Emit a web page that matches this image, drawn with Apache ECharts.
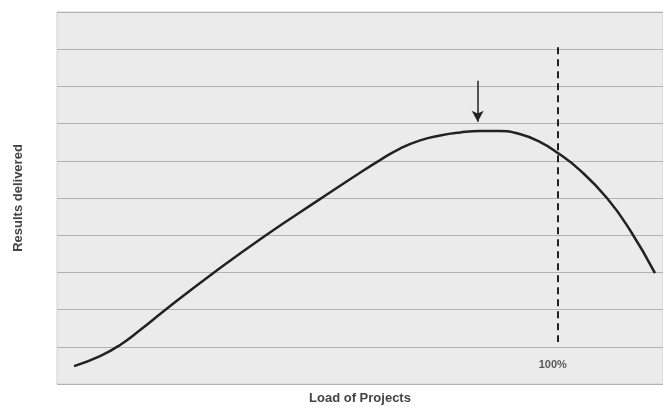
<!DOCTYPE html>
<html>
<head>
<meta charset="utf-8">
<script src="https://cdn.jsdelivr.net/npm/echarts@6/dist/echarts.min.js"></script>
<style>html,body{margin:0;padding:0;background:#fff}#c{width:663px;height:407px}</style>
</head>
<body>
<div id="c"></div>
<script>
// Load of projects (% of capacity) and results delivered (arbitrary units)
var loadValues = [3.4, 8.6, 12.6, 16.6, 21.6, 31.5, 41.5, 52.5, 60.5, 64.5, 68.5, 72.5, 76.5, 80.5, 84.4, 88.4, 92.4, 96.4, 100, 104.4, 109.8, 114.4, 119.4];
var resultValues = [0.48, 0.75, 1.05, 1.45, 1.99, 3.01, 3.98, 4.97, 5.68, 6.02, 6.33, 6.55, 6.68, 6.76, 6.80, 6.80, 6.72, 6.51, 6.21, 5.75, 5.0, 4.14, 2.98];
var capacityX = 100;
var capacityLine = [9.05, 1.13];
var capacityLabel = "100%";
var peakArrowX = 84;
var peakArrow = [8.15, 7.05];
var xTitle = "Load of Projects";
var yTitle = "Results delivered";

var curve = loadValues.map(function (x, i) { return [x, resultValues[i]]; });

var chart = echarts.init(document.getElementById('c'));
chart.setOption({
  animation: false,
  grid: { left: 57, top: 12, right: 0, bottom: 23, outerBoundsMode: 'none', containLabel: false, show: true, backgroundColor: '#ebebeb', borderColor: '#d0d0d0', borderWidth: 1 },
  xAxis: {
    type: 'value', min: 0, max: 121,
    name: xTitle, nameLocation: 'middle', nameGap: 8,
    nameTextStyle: { fontFamily: 'Liberation Sans', fontWeight: 'bold', fontSize: 13, color: '#444' },
    axisLine: { show: false }, axisTick: { show: false }, axisLabel: { show: false }, splitLine: { show: false }
  },
  yAxis: {
    type: 'value', min: 0, max: 10, interval: 1,
    name: yTitle, nameLocation: 'middle', nameGap: 32,
    nameTextStyle: { fontFamily: 'Liberation Sans', fontWeight: 'bold', fontSize: 13, color: '#444' },
    axisLine: { show: false }, axisTick: { show: false }, axisLabel: { show: false },
    splitLine: { show: true, lineStyle: { color: '#b2b2b2', width: 1 } }
  },
  series: [
    {
      type: 'line', data: curve, smooth: 0.5, showSymbol: false,
      lineStyle: { color: '#222', width: 2.5 },
      markLine: {
        silent: true, animation: false,
        label: { show: false },
        data: [
          [
            { coord: [capacityX, capacityLine[0]], symbol: 'none' },
            { coord: [capacityX, capacityLine[1]], symbol: 'none', lineStyle: { color: '#222', width: 2, type: [7, 5] } }
          ],
          [
            { coord: [peakArrowX, peakArrow[0]], symbol: 'none' },
            { coord: [peakArrowX, peakArrow[1]], symbol: 'arrow', symbolSize: [9, 11], lineStyle: { color: '#222', width: 1.5, type: 'solid' } }
          ]
        ]
      }
    },
    {
      type: 'scatter', data: [[capacityX - 1, 0.5]], symbolSize: 0,
      label: { show: true, formatter: capacityLabel, position: 'inside', fontFamily: 'Liberation Sans', fontWeight: 'bold', fontSize: 11, color: '#333' }
    }
  ]
});
</script>
</body>
</html>
